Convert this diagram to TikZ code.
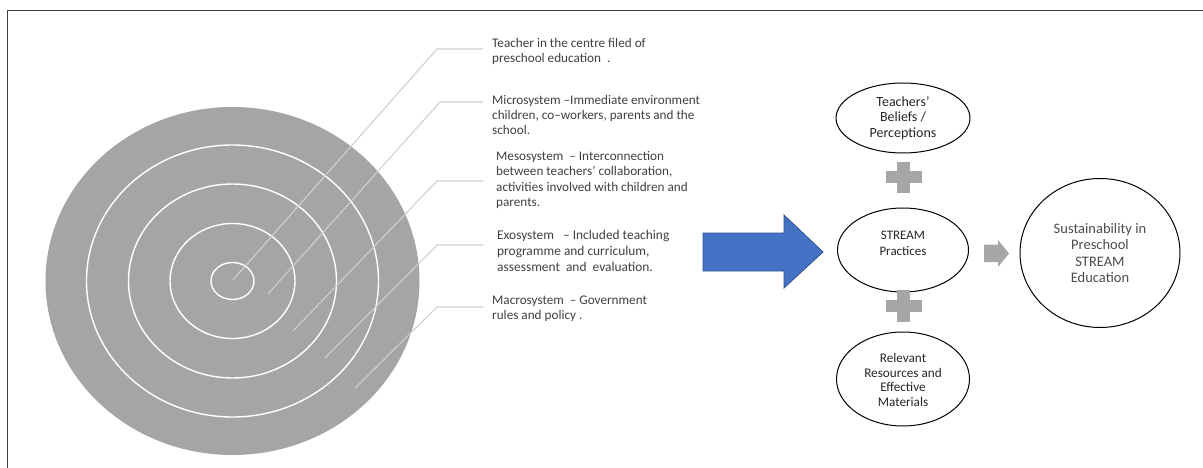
\documentclass[tikz,border=0pt]{standalone}
\usepackage{fontspec}
\setmainfont{Carlito}
\usetikzlibrary{shapes.geometric}
\definecolor{ringgray}{HTML}{A5A5A5}
\definecolor{leadgray}{HTML}{D0D0D0}
\definecolor{labgray}{HTML}{404040}
\definecolor{plusgray}{HTML}{A6A6A6}
\definecolor{arrowblue}{HTML}{4472C4}
\definecolor{arrowedge}{HTML}{2F528F}
\tikzset{
  ring/.style={draw=white, line width=1.4pt},
  leader/.style={draw=leadgray, line width=1.1pt},
  lab/.style={anchor=base west, align=left, inner sep=0pt, text=labgray, font=\fontsize{13.2}{15}\selectfont},
  oval/.style={ellipse, draw=black, line width=1pt, inner sep=0pt},
  ovaltext/.style={align=center, inner sep=0pt, text=black!85, font=\fontsize{14}{15.5}\selectfont},
}
\begin{document}
\begin{tikzpicture}[x=1pt,y=-1pt]
\useasboundingbox (0,0) rectangle (1203,468);
% frame
\draw[labgray, line width=1.5pt] (7.5,468) -- (7.5,10.5) -- (1203,10.5);
% concentric circles
\fill[ringgray] (232.5,281) ellipse [x radius=187, y radius=174];
\draw[ring] (232.5,281) ellipse [x radius=146, y radius=136];
\draw[ring] (232.5,281) ellipse [x radius=104, y radius=97];
\draw[ring] (232.5,281) ellipse [x radius=62.5, y radius=57.5];
\draw[ring] (232.5,281) ellipse [x radius=21.5, y radius=18.5];
% leader coordinates
\coordinate (p1) at (233,280); \coordinate (k1) at (437,49); \coordinate (e1) at (483,49);
\coordinate (p2) at (268,294); \coordinate (k2) at (440,102); \coordinate (e2) at (483,102);
\coordinate (p3) at (293,331); \coordinate (k3) at (437,181); \coordinate (e3) at (483,181);
\coordinate (p4) at (325,358); \coordinate (k4) at (437,245); \coordinate (e4) at (483,245);
\coordinate (p5) at (355,388); \coordinate (k5) at (437,307); \coordinate (e5) at (483,307);
\draw[leader] (p1) -- (k1) -- (e1);
\draw[leader] (p2) -- (k2) -- (e2);
\draw[leader] (p3) -- (k3) -- (e3);
\draw[leader] (p4) -- (k4) -- (e4);
\draw[leader] (p5) -- (k5) -- (e5);
% labels (anchored at the baseline of the last line)
\node[lab] (t1) at (492,62.5) {Teacher in the centre filed of\\preschool education\ \ .};
\node[lab] (t2) at (492,134.5) {Microsystem --Immediate environment\\children, co--workers, parents and the\\school.};
\node[lab, font=\fontsize{13.2}{15.3}\selectfont] (t3) at (496,206.5) {Mesosystem\ \ -- Interconnection\\between teachers' collaboration,\\activities involved with children and\\parents.};
\node[lab, font=\fontsize{13.4}{16}\selectfont] (t4) at (497,271.5) {Exosystem\ \ \ -- Included teaching\\programme and curriculum,\\assessment\ \ and\ \ evaluation.};
\node[lab] (t5) at (492,319.5) {Macrosystem\ \ -- Government\\rules and policy .};
% blue arrow
\filldraw[fill=arrowblue, draw=arrowedge, line width=0.8pt, line join=miter]
  (703,233) -- (784,233) -- (784,215) -- (823,252) -- (784,288) -- (784,271) -- (703,271) -- cycle;
% ovals
\node[oval, minimum width=134, minimum height=70] (bel) at (903,118) {};
\node[ovaltext] at (bel.center) {Teachers'\\Beliefs /\\Perceptions};
\node[oval, minimum width=131, minimum height=84] (prac) at (903,250) {};
\node[ovaltext, font=\fontsize{13}{16}\selectfont] at ([yshift=7pt]prac.center) {STREAM\\Practices};
\node[oval, minimum width=133, minimum height=94] (res) at (903,379) {};
\node[ovaltext, font=\fontsize{13.2}{14.9}\selectfont] at ([yshift=-1pt]res.center) {Relevant\\Resources and\\Effective\\Materials};
\node[oval, minimum width=160, minimum height=149] (sus) at (1100,253) {};
\node[ovaltext, text=black!70, font=\fontsize{14.5}{16.3}\selectfont] at (sus.center) {Sustainability in\\Preschool\\STREAM\\Education};
% plus signs
\fill[plusgray] (886,171) rectangle (922,183);
\fill[plusgray] (897,162) rectangle (910,193);
\fill[plusgray] (886,300) rectangle (922,312);
\fill[plusgray] (897,290) rectangle (910,322);
% gray arrow
\fill[plusgray] (984,244.5) -- (998,244.5) -- (998,240) -- (1009,253.5) -- (998,267) -- (998,262) -- (984,262) -- cycle;
\end{tikzpicture}
\end{document}
